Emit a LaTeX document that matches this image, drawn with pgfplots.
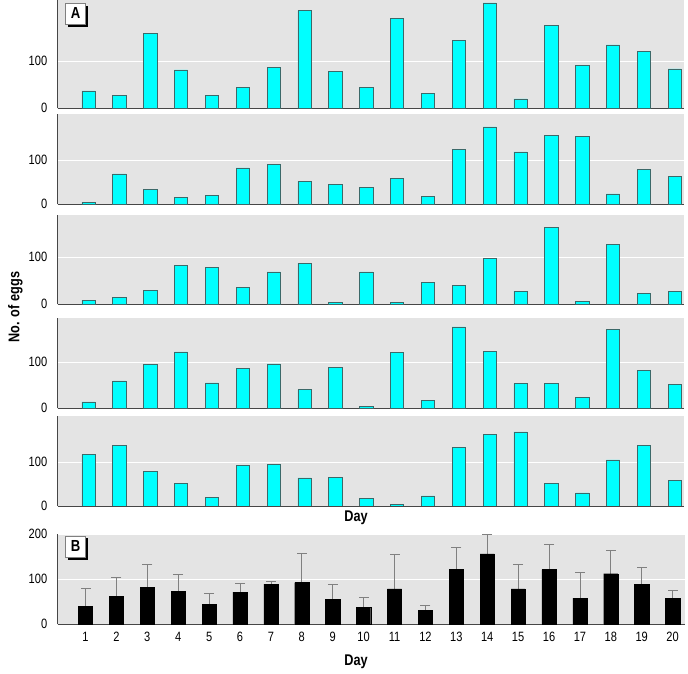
\documentclass[border=0pt]{standalone}
\usepackage{fontspec}
\setmainfont{Liberation Sans}[FakeStretch=0.82]
\usepackage{pgfplots}
\usepackage{pgfplotstable}
\pgfplotsset{compat=1.18}
\definecolor{bg}{RGB}{228,228,228}
\definecolor{axisc}{RGB}{70,70,70}
\definecolor{baredge}{RGB}{60,105,105}
\definecolor{barfill}{RGB}{0,255,255}
\newcommand{\tickfont}{\fontsize{13.5}{14}\selectfont}
\newcommand{\labfont}{\fontsize{15.5}{16}\selectfont\bfseries}
\newcommand{\letfont}{\fontsize{16}{16}\selectfont\bfseries}
\pgfplotsset{
  common/.style={
    scale only axis, anchor=south west,
    axis background/.style={fill=bg},
    axis x line*=bottom, axis y line*=left,
    axis line style={draw=axisc, line width=0.8pt, -},
    ymin=0,
    ytick style={draw=none}, xtick style={draw=none},
    ymajorgrids, grid style={white, line width=0.9pt},
    tick label style={font=\tickfont},
    /pgf/number format/assume math mode=true,
    yticklabel style={xshift=-7pt},
  },
  pA/.style={common, width=626.3pt, xmin=0, xmax=20.3, xtick=\empty, ytick={0,100}},
  pB/.style={common, width=627.3pt, xmin=0.1, xmax=20.4, xtick={1,...,20}, ytick={0,100,200},
    xticklabel style={yshift=-4pt}},
}
\newcommand{\panelA}[4]{%
\begin{axis}[pA, at={(57.7pt,#1pt)}, height=#2pt, ymax=#3]
\addplot[ybar, bar width=0.43, fill=barfill, draw=baredge, line width=0.6pt] coordinates {#4};
\end{axis}}
\pgfplotstableread{
x y e top
1 40 40 80
2 62 42 104
3 82 50 132
4 73 38 111
5 44 25 69
6 71 20 91
7 89 6.5 95.5
8 92.5 65.5 158
9 56 33 89
10 38 22 60
11 78.5 77 155.5
12 31 11 42
13 122 49 171
14 156 43 199
15 78.5 54.5 133
16 121 57 178
17 58 57.5 115.5
18 112 51.5 163.5
19 89 37.7 126.7
20 58 17.5 75.5
}\dataB
\begin{document}
\begin{tikzpicture}
\path[use as bounding box] (0pt,0pt) rectangle (688pt,674pt);
\panelA{565.7}{108.3}{230.4}{(1,37) (2,28) (3,160) (4,81.5) (5,28) (6,45) (7,87) (8,208) (9,78) (10,45) (11,191) (12,31) (13,145) (14,224) (15,20) (16,176) (17,91.5) (18,135) (19,121) (20,84)}
\panelA{469.7}{90}{204.5}{(1,4.5) (2,69) (3,34) (4,16) (5,19.5) (6,82.5) (7,91) (8,52) (9,45.5) (10,38.6) (11,58) (12,18) (13,125) (14,176) (15,119) (16,156) (17,154.5) (18,23.4) (19,79.5) (20,62.7)}
\panelA{369.7}{89.6}{190.6}{(1,9) (2,14) (3,30.4) (4,83) (5,79) (6,36) (7,69) (8,87) (9,4) (10,69) (11,4) (12,47) (13,41) (14,98) (15,28) (16,164) (17,5.5) (18,127) (19,24) (20,27.7)}
\panelA{265.7}{90.6}{195.7}{(1,13.7) (2,59) (3,94) (4,122) (5,55) (6,87) (7,96) (8,40) (9,88) (10,3.6) (11,120.6) (12,16.5) (13,175.6) (14,123.6) (15,53.5) (16,53.5) (17,24) (18,170) (19,82.6) (20,52)}
\panelA{168}{90}{205}{(1,117) (2,138) (3,78) (4,52) (5,20) (6,92) (7,94.5) (8,64) (9,65.7) (10,17) (11,3) (12,23) (13,134) (14,163) (15,168.6) (16,52) (17,30) (18,105) (19,137.7) (20,58.7)}
\begin{axis}[pB, at={(57.7pt,49.7pt)}, height=90.3pt, ymax=200, clip=false]
\addplot[draw=none, mark=none,
  error bars/.cd, y dir=plus, y explicit, error mark=none,
  error bar style={draw=gray, line width=0.7pt}]
  table[x=x, y=y, y error=e] {\dataB};
\addplot[ybar, bar width=0.46, fill=black, draw=black, line width=0.4pt]
  table[x=x, y=y] {\dataB};
\addplot[only marks, mark=-, mark size=5pt, mark options={draw=gray, line width=0.7pt}]
  table[x=x, y=top] {\dataB};
\end{axis}
% panel letters
\fill[black] (68.4pt,647.3pt) rectangle (88.4pt,668.3pt);
\draw[gray, fill=white, line width=0.5pt] (65.7pt,650pt) rectangle (85.7pt,671pt);
\node[font=\letfont] at (75.7pt,660.5pt) {A};
\fill[black] (68.4pt,114pt) rectangle (88.4pt,135.5pt);
\draw[gray, fill=white, line width=0.5pt] (65.7pt,116.7pt) rectangle (85.7pt,138.2pt);
\node[font=\letfont] at (75.7pt,127.5pt) {B};
% axis titles
\node[font=\labfont] at (356pt,156pt) {Day};
\node[font=\labfont] at (356pt,12pt) {Day};
\node[font=\labfont, rotate=90] at (15.5pt,367pt) {No. of eggs};
\end{tikzpicture}
\end{document}
